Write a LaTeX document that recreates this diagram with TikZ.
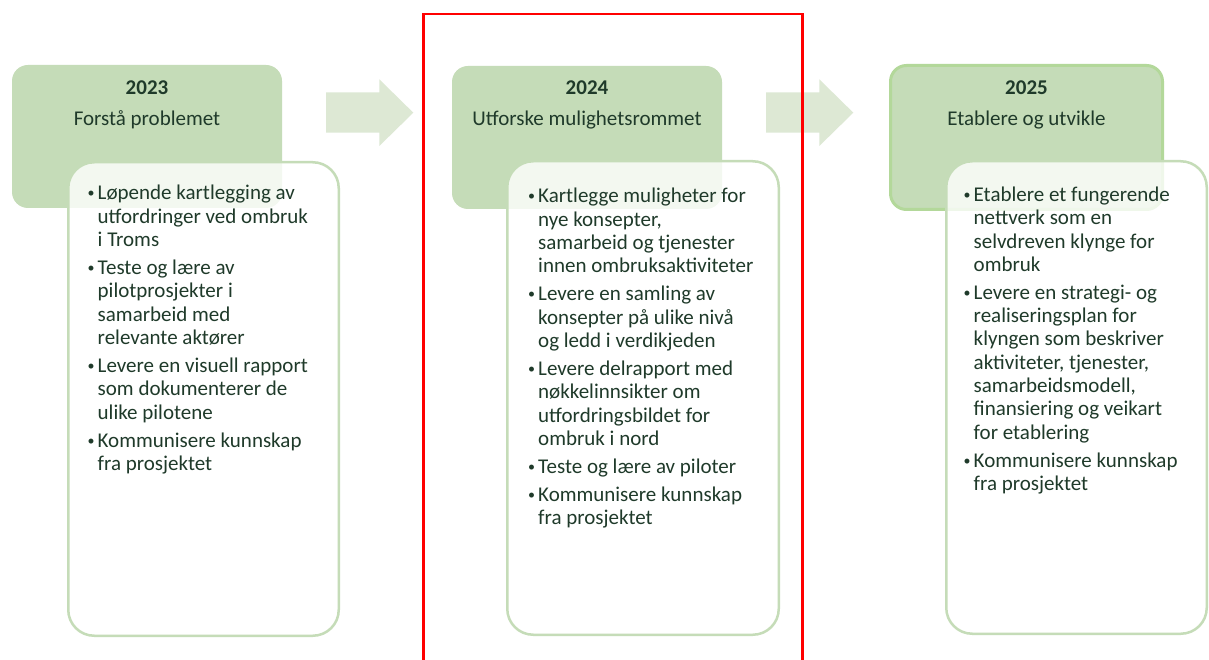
\documentclass[tikz,border=0pt]{standalone}
\usepackage{fontspec}
\setmainfont{Carlito}
\definecolor{gfill}{HTML}{C5DCB8}
\definecolor{afill}{HTML}{DDE8D4}
\definecolor{wborder}{HTML}{C5DCB8}
\definecolor{selborder}{HTML}{B3D89A}
\definecolor{txt}{HTML}{1F3A2A}
\newcommand\bul{\makebox[13pt][c]{\raisebox{2pt}{\fontsize{14}{14}\selectfont •}}}
\newcommand\gap{\\[4.7pt]}
\tikzset{
  greenbox/.style={rectangle, rounded corners=16pt, fill=gfill, draw=none, inner sep=0pt},
  selbox/.style={greenbox, draw=selborder, line width=3pt},
  whitebox/.style={rectangle, rounded corners=26pt, fill=white, fill opacity=0.8, draw=wborder, draw opacity=1, line width=2.5pt, inner sep=0pt},
  blockarrow/.style={fill=afill, draw=none},
  yr/.style={font=\fontsize{21}{25}\selectfont\bfseries, text=txt, anchor=base, inner sep=0pt},
  sub/.style={font=\fontsize{21}{25}\selectfont, text=txt, anchor=base, inner sep=0pt},
  list/.style={font=\fontsize{21}{23.3}\selectfont, text=txt, anchor=base west, inner sep=0pt, align=left},
}
\begin{document}
\begin{tikzpicture}[x=1pt,y=-1pt]
\useasboundingbox (0,0) rectangle (1209,660);
\fill[white] (0,0) rectangle (1209,660);

% green header boxes
\node[greenbox, minimum width=270pt, minimum height=143pt] (g1) at (147,136.5) {};
\node[greenbox, minimum width=270pt, minimum height=143pt] (g2) at (587,137.5) {};
\node[selbox, minimum width=272pt, minimum height=144pt] (g3) at (1026.5,137.5) {};

% block arrows
\fill[blockarrow] (326,92.3) -- (379.3,92.3) -- (379.3,79.3) -- (413.3,112.7) -- (379.3,146) -- (379.3,132.7) -- (326,132.7) -- cycle;
\fill[blockarrow] (766,92.3) -- (819.3,92.3) -- (819.3,79.3) -- (853.3,112.7) -- (819.3,146) -- (819.3,132.7) -- (766,132.7) -- cycle;

% white content boxes
\node[whitebox, minimum width=270.5pt, minimum height=473.5pt] (w1) at (203.5,399) {};
\node[whitebox, minimum width=271.5pt, minimum height=473.5pt] (w2) at (643,398) {};
\node[whitebox, minimum width=260.5pt, minimum height=472.5pt] (w3) at (1076.5,397.5) {};

% header texts
\node[yr] (y1) at (147,94.3) {2023};
\node[sub] (s1) at (147,125.5) {Forstå problemet};
\node[yr] (y2) at (587,94.3) {2024};
\node[sub] (s2) at (587,125.5) {Utforske mulighetsrommet};
\node[yr] (y3) at (1026.5,94.3) {2025};
\node[sub] (s3) at (1026.5,125.5) {Etablere og utvikle};

% lists
\node[list] (l1) at (84.5,200) {\begin{tabular}[t]{@{}l@{}l@{}}
\bul & Løpende kartlegging av\\
 & utfordringer ved ombruk\\
 & i Troms\gap
\bul & Teste og lære av\\
 & pilotprosjekter i\\
 & samarbeid med\\
 & relevante aktører\gap
\bul & Levere en visuell rapport\\
 & som dokumenterer de\\
 & ulike pilotene\gap
\bul & Kommunisere kunnskap\\
 & fra prosjektet
\end{tabular}};

\node[list] (l2) at (525,203) {\begin{tabular}[t]{@{}l@{}l@{}}
\bul & Kartlegge muligheter for\\
 & nye konsepter,\\
 & samarbeid og tjenester\\
 & innen ombruksaktiviteter\gap
\bul & Levere en samling av\\
 & konsepter på ulike nivå\\
 & og ledd i verdikjeden\gap
\bul & Levere delrapport med\\
 & nøkkelinnsikter om\\
 & utfordringsbildet for\\
 & ombruk i nord\gap
\bul & Teste og lære av piloter\gap
\bul & Kommunisere kunnskap\\
 & fra prosjektet
\end{tabular}};

\node[list] (l3) at (960.5,201.5) {\begin{tabular}[t]{@{}l@{}l@{}}
\bul & Etablere et fungerende\\
 & nettverk som en\\
 & selvdreven klynge for\\
 & ombruk\gap
\bul & Levere en strategi- og\\
 & realiseringsplan for\\
 & klyngen som beskriver\\
 & aktiviteter, tjenester,\\
 & samarbeidsmodell,\\
 & finansiering og veikart\\
 & for etablering\gap
\bul & Kommunisere kunnskap\\
 & fra prosjektet
\end{tabular}};

% red highlight frame
\draw[red, line width=2.5pt] (423.3,14) rectangle (802.3,690);
\end{tikzpicture}
\end{document}
